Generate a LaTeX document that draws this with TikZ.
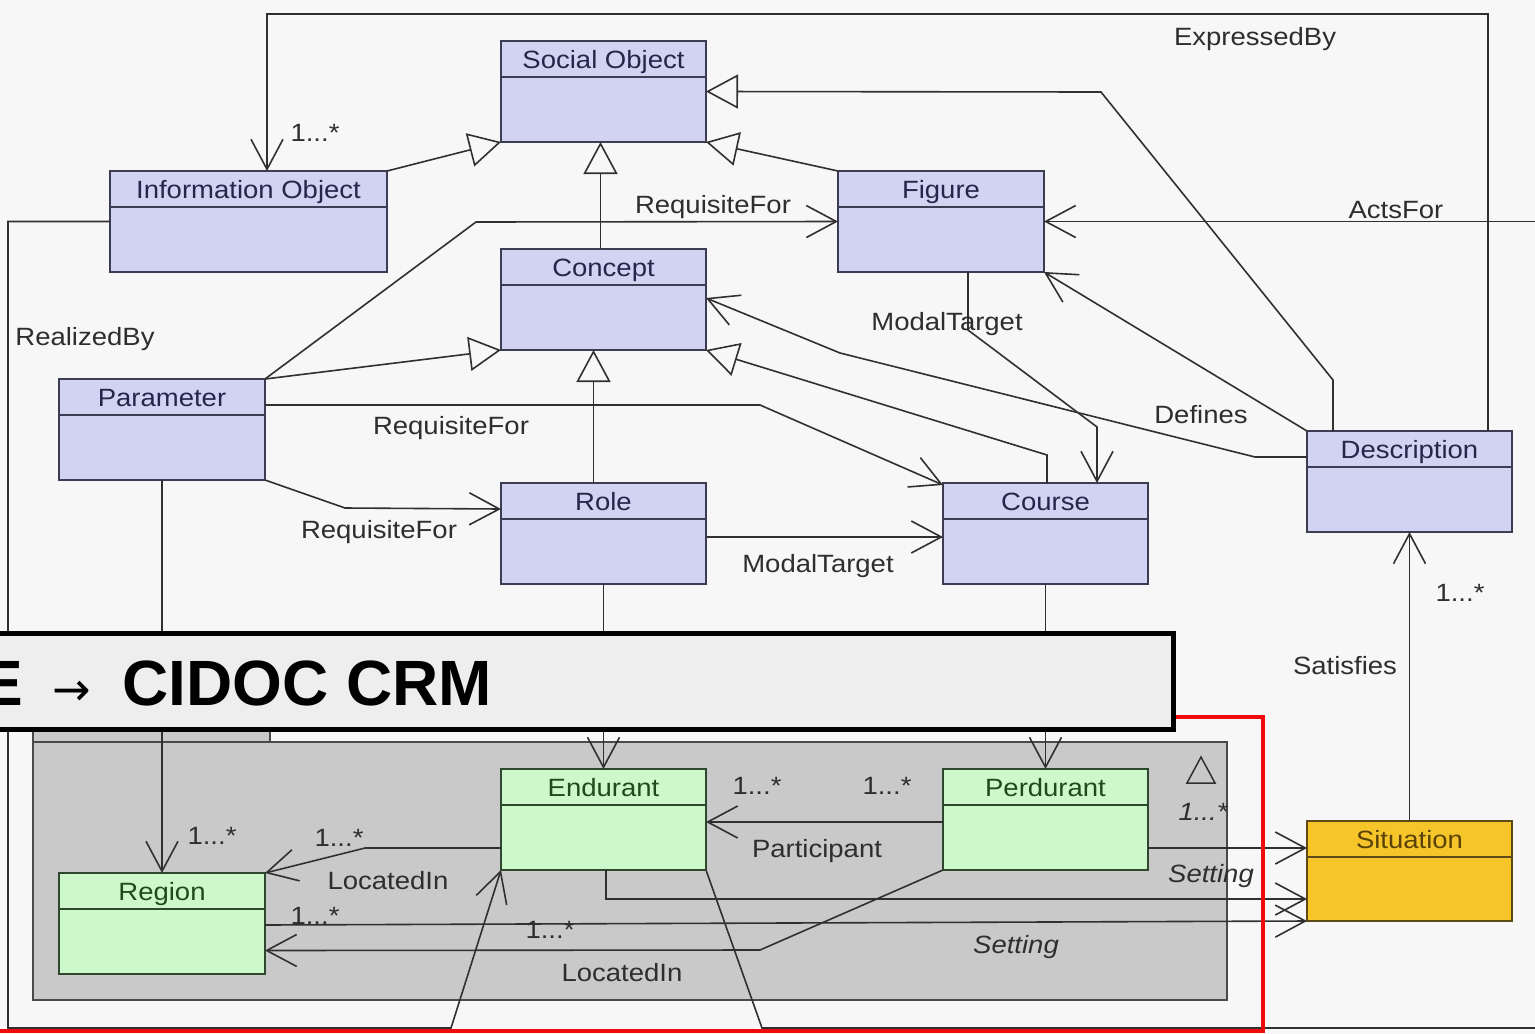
\documentclass[tikz,border=0pt]{standalone}
\usepackage{fontspec}
\setmainfont{Liberation Sans}[FakeStretch=1.1]
\newfontfamily\bannerfont{Liberation Sans}
\newfontfamily\arrowfont{DejaVu Sans}
\usetikzlibrary{arrows.meta}
\definecolor{bgc}{HTML}{F7F7F7}
\definecolor{bluef}{HTML}{D2D2F2}
\definecolor{bluebd}{HTML}{3C3C52}
\definecolor{bluet}{HTML}{26264A}
\definecolor{greenf}{HTML}{CCF8CC}
\definecolor{greenbd}{HTML}{2E482E}
\definecolor{greent}{HTML}{1E4A1E}
\definecolor{sitf}{HTML}{F5C52A}
\definecolor{sitbd}{HTML}{5E4A18}
\definecolor{sitt}{HTML}{5A4208}
\definecolor{linec}{HTML}{303030}
\definecolor{labelc}{HTML}{2E2E2E}
\definecolor{pkgf}{HTML}{C9C9C9}
\definecolor{pkgbd}{HTML}{4A4A4A}
\definecolor{bannerf}{HTML}{EEEEEE}
\definecolor{redc}{HTML}{F00A0A}
\tikzset{
  classbox/.style={line width=2pt, inner sep=0pt, outer sep=0pt, minimum height=101pt},
  bluebox/.style={classbox, draw=bluebd, fill=bluef},
  greenbox/.style={classbox, draw=greenbd, fill=greenf},
  sitbox/.style={classbox, draw=sitbd, fill=sitf, minimum height=100pt},
  ttl/.style={font=\fontsize{25}{30}\selectfont, inner sep=0pt, text height=18pt, text depth=0pt},
  lbl/.style={font=\fontsize{25}{30}\selectfont, text=labelc, inner sep=0pt, text height=18pt, text depth=0pt},
  conn/.style={draw=linec, line width=1.6pt},
  assoc/.style={conn, -{Straight Barb[length=30pt,width=32pt]}},
  gen/.style={conn, -{Triangle[open,length=32pt,width=34pt]}},
  pkg/.style={draw=pkgbd, fill=pkgf, line width=1.5pt},
  banner/.style={draw=black, fill=bannerf, line width=5pt, inner sep=0pt, outer sep=0pt},
}
\newcommand\umlclass[8]{%
  \node[#6, minimum width=#4pt] (#1) at (#2,#3) {};
  \draw[line width=2pt, draw=#7] ([yshift=-36pt]#1.north west) -- ([yshift=-36pt]#1.north east);
  \node[ttl, text=#8] (#1-title) at ([yshift=-18pt]#1.north) {#5};
}
\begin{document}
\begin{tikzpicture}[x=1pt,y=-1pt]
\fill[bgc] (0,0) rectangle (1535,1034);
\useasboundingbox (0,0) rectangle (1535,1034);

% package
\draw[pkg] (33,712) rectangle (270,742);
\draw[pkg] (33,742) rectangle (1227,1000);
\draw[line width=1.5pt, draw=linec] (1187,783) -- (1215,783) -- (1201,757) -- cycle;

% classes
\umlclass{so}{603.5}{91.5}{205}{Social Object}{bluebox}{bluebd}{bluet}
\umlclass{io}{248.5}{221.5}{277}{Information Object}{bluebox}{bluebd}{bluet}
\umlclass{fig}{941}{221.5}{206}{Figure}{bluebox}{bluebd}{bluet}
\umlclass{concept}{603.5}{299.5}{205}{Concept}{bluebox}{bluebd}{bluet}
\umlclass{param}{162}{429.5}{206}{Parameter}{bluebox}{bluebd}{bluet}
\umlclass{role}{603.5}{533.5}{205}{Role}{bluebox}{bluebd}{bluet}
\umlclass{course}{1045.5}{533.5}{205}{Course}{bluebox}{bluebd}{bluet}
\umlclass{desc}{1409.5}{481.5}{205}{Description}{bluebox}{bluebd}{bluet}
\umlclass{endu}{603.5}{819.5}{205}{Endurant}{greenbox}{greenbd}{greent}
\umlclass{perd}{1045.5}{819.5}{205}{Perdurant}{greenbox}{greenbd}{greent}
\umlclass{region}{162}{923.5}{206}{Region}{greenbox}{greenbd}{greent}
\umlclass{sit}{1409.5}{871}{205}{Situation}{sitbox}{sitbd}{sitt}

\coordinate (actsR) at (1540,221.5);
\coordinate (botR) at (1540,1028);

% generalizations
\draw[gen] (io.north east) -- (so.south west);
\draw[gen] ([xshift=-3pt]concept.north) -- ([xshift=-3pt]so.south);
\draw[gen] (fig.north west) -- (so.south east);
\draw[gen] ([xshift=-76.5pt]desc.north) -- ++(0,-51) -- ++(-232,-288) -- (so.east);
\draw[gen] (param.north east) -- (concept.south west);
\draw[gen] ([xshift=-10pt]role.north) -- ([xshift=-10pt]concept.south);
\draw[gen] ([xshift=1.5pt]course.north) -- ++(0,-28) -- (concept.south east);

% associations
\draw[assoc] ([xshift=78.5pt]desc.north) -- ++(0,-417) -| ([xshift=18.5pt]io.north);
\draw[assoc] (param.north east) -- ++(211,-157) -- (fig.west);
\draw[assoc] ([yshift=-26pt]param.north east) -- ++(495,0) -- ([yshift=-2pt]course.north west);
\draw[assoc] (param.south east) -- ++(80,28) -- ([yshift=24.5pt]role.west);
\draw[assoc] ([yshift=-3.5pt]role.east) -- ([yshift=-3.5pt]course.west);
\draw[assoc] ([xshift=27pt]fig.south) -- ++(0,58) -- ++(129,97) -- ([xshift=51.5pt]course.north);
\draw[assoc] ([yshift=24.5pt]desc.west) -- ++(-52,0) -- ++(-415,-104) -- ([yshift=1.5pt]concept.east);
\draw[assoc] (desc.north west) -- (fig.south east);
\draw[assoc] (actsR) -- (fig.east);
\draw[assoc] (io.west) -- ++(-102,0) -- ++(0,806.5) -- ++(443,0) -- (endu.south west);
\draw[conn] (endu.south east) -- ++(56,158) -- (botR);
\draw[assoc] (sit.north) -- (desc.south);
\draw[assoc] (role.south) -- (endu.north);
\draw[assoc] (course.south) -- (perd.north);
\draw[assoc] (param.south) -- (region.north);
\draw[assoc] ([yshift=-2.5pt]perd.west) -- ([yshift=-2.5pt]endu.east);
\draw[assoc] ([yshift=-28.5pt]endu.west) -- ++(-136,0) -- (region.north east);
\draw[assoc] (perd.south west) -- ++(-183,80) -- ([yshift=-27pt]region.east);
\draw[assoc] ([yshift=-28.5pt]perd.east) -- ([yshift=23pt]sit.west);
\draw[assoc] ([xshift=2.5pt]endu.south) -- ++(0,29) -- ([yshift=-28pt]sit.west);
\draw[assoc] ([yshift=-1.5pt]region.east) -- (sit.south west);

% labels
\node[lbl] (l-expr) at (1255,36) {ExpressedBy};
\node[lbl] (m-io) at (315,132) {1...*};
\node[lbl] (l-req1) at (713,204) {RequisiteFor};
\node[lbl] (l-acts) at (1396,209) {ActsFor};
\node[lbl] (l-real) at (85,336) {RealizedBy};
\node[lbl] (l-mod1) at (947,321) {ModalTarget};
\node[lbl] (l-def) at (1201,414) {Defines};
\node[lbl] (l-req2) at (451,425) {RequisiteFor};
\node[lbl] (l-req3) at (379,529) {RequisiteFor};
\node[lbl] (l-mod2) at (818,563) {ModalTarget};
\node[lbl] (m-desc) at (1460,592) {1...*};
\node[lbl] (l-sat) at (1345,665) {Satisfies};
\node[lbl] (m-p1) at (757,785) {1...*};
\node[lbl] (m-p2) at (887,785) {1...*};
\node[lbl, font=\itshape\fontsize{25}{30}\selectfont] (m-set) at (1203,811) {1...*};
\node[lbl] (l-part) at (817,848) {Participant};
\node[lbl] (m-reg) at (212,835) {1...*};
\node[lbl] (m-loc1) at (339,837) {1...*};
\node[lbl] (l-loc1) at (388,880) {LocatedIn};
\node[lbl, font=\itshape\fontsize{25}{30}\selectfont] (l-set1) at (1211,873) {Setting};
\node[lbl] (m-r1) at (315,915) {1...*};
\node[lbl] (m-r2) at (550,929) {1...*};
\node[lbl, font=\itshape\fontsize{25}{30}\selectfont] (l-set2) at (1016,944) {Setting};
\node[lbl] (l-loc2) at (622,972) {LocatedIn};

% red frame and banner
\draw[redc, line width=4.5pt] (1160,717) -- (1263,717) -- (1263,1031) -- (-5,1031);
\node[banner, minimum width=1193pt, minimum height=96pt] (banner) at (576.5,681) {};
\node[anchor=base east, inner sep=0pt, font=\bannerfont\bfseries\fontsize{64}{70}\selectfont] (bE) at (23,705) {E};
\node[anchor=base, inner sep=0pt, font=\arrowfont\fontsize{46}{50}\selectfont] (bArr) at (72,705) {→};
\node[anchor=base west, inner sep=0pt, font=\bannerfont\bfseries\fontsize{64}{70}\selectfont] (bTitle) at (122,705) {CIDOC CRM};
\end{tikzpicture}
\end{document}
